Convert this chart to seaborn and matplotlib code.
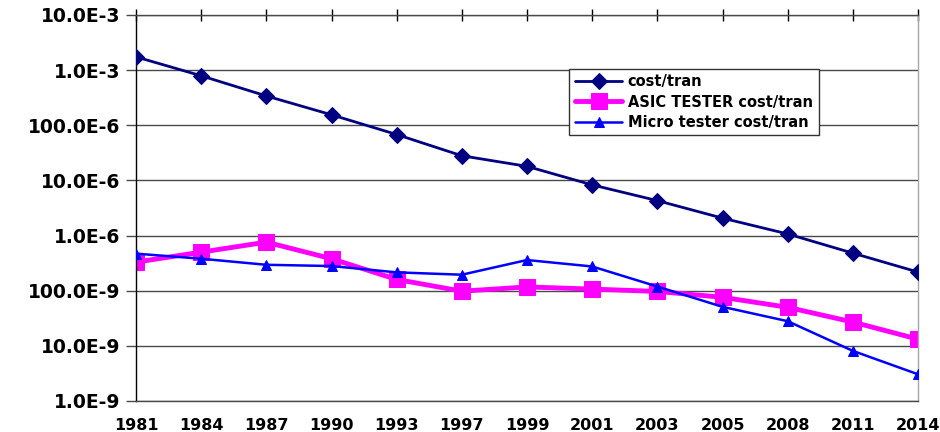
import numpy as np
import pandas as pd
import seaborn as sns
import matplotlib.pyplot as plt
from matplotlib.ticker import FixedLocator, NullLocator

# --- Data ---
years = ["1981", "1984", "1987", "1990", "1993", "1997", "1999",
         "2001", "2003", "2005", "2008", "2011", "2014"]
cost_tran = [1.74e-3, 7.9e-4, 3.4e-4, 1.55e-4, 6.8e-5, 2.8e-5, 1.8e-5,
             8.3e-6, 4.3e-6, 2.07e-6, 1.07e-6, 4.8e-7, 2.18e-7]
asic_tester = [3.3e-7, 5.0e-7, 7.6e-7, 3.8e-7, 1.6e-7, 9.8e-8, 1.17e-7,
               1.07e-7, 9.7e-8, 7.6e-8, 5.0e-8, 2.7e-8, 1.32e-8]
micro_tester = [4.7e-7, 3.8e-7, 2.95e-7, 2.8e-7, 2.15e-7, 1.95e-7, 3.6e-7,
                2.75e-7, 1.19e-7, 5.1e-8, 2.8e-8, 8.1e-9, 3.05e-9]
y_ticks = [1e-9, 1e-8, 1e-7, 1e-6, 1e-5, 1e-4, 1e-3, 1e-2]
y_labels = ["1.0E-9", "10.0E-9", "100.0E-9", "1.0E-6",
            "10.0E-6", "100.0E-6", "1.0E-3", "10.0E-3"]

df = pd.DataFrame({
    "pos": np.arange(len(years)),
    "cost/tran": cost_tran,
    "ASIC TESTER cost/tran": asic_tester,
    "Micro tester cost/tran": micro_tester,
})

sns.set_style("white")
plt.rcParams["font.family"] = ["DejaVu Sans"]
plt.rcParams["font.weight"] = "bold"
plt.rcParams["text.color"] = "black"
plt.rcParams["xtick.labelcolor"] = "black"
plt.rcParams["ytick.labelcolor"] = "black"

fig = plt.figure(figsize=(9.4, 4.32), dpi=100)
ax = fig.add_axes([0.1447, 0.0718, 0.8319, 0.8935])

# --- Series ---
sns.lineplot(data=df, x="pos", y="cost/tran", ax=ax, color="#000080",
             marker="D", markersize=8, markeredgecolor="#000080",
             linewidth=2, label="cost/tran", zorder=3)
sns.lineplot(data=df, x="pos", y="ASIC TESTER cost/tran", ax=ax,
             color="#FF00FF", marker="s", markersize=11,
             markeredgecolor="#FF00FF", linewidth=3.5,
             label="ASIC TESTER cost/tran", zorder=2)
sns.lineplot(data=df, x="pos", y="Micro tester cost/tran", ax=ax,
             color="#0000FF", marker="^", markersize=7.5,
             markeredgecolor="#0000FF", linewidth=1.8,
             label="Micro tester cost/tran", zorder=4)

# --- Axes ---
ax.set_yscale("log")
ax.set_ylim(1e-9, 1e-2)
ax.set_xlim(0, len(years) - 1)
ax.yaxis.set_major_locator(FixedLocator(y_ticks))
ax.yaxis.set_minor_locator(NullLocator())
ax.set_yticklabels(y_labels, fontsize=13.5, fontweight="bold")
ax.set_xticks(df["pos"])
ax.set_xticklabels(years, fontsize=11.5, fontweight="bold")
ax.set_xlabel("")
ax.set_ylabel("")

ax.grid(axis="y", color="#4a4a4a", linewidth=1)
ax.set_axisbelow(True)
ax.tick_params(axis="x", bottom=False, top=True, direction="inout",
               length=8, width=1, color="black",
               labelbottom=True, labeltop=False, pad=8)
ax.tick_params(axis="y", left=True, direction="out", length=7,
               width=1, color="#4a4a4a", pad=4)

ax.spines["left"].set_color("black")
ax.spines["top"].set_color("#4a4a4a")
ax.spines["bottom"].set_color("#4a4a4a")
ax.spines["right"].set_color("#a6a6a6")
for s in ax.spines.values():
    s.set_linewidth(1)

# --- Legend ---
leg = ax.legend(loc="upper left", bbox_to_anchor=(0.545, 0.88),
                frameon=True, fancybox=False, framealpha=1,
                edgecolor="#333333", borderpad=0.4,
                labelspacing=0.35, handlelength=3.2, handletextpad=0.4,
                prop={"weight": "bold", "size": 10.5})
leg.get_frame().set_linewidth(1)
for t in leg.get_texts():
    t.set_color("black")

fig.savefig("out.png", dpi=100)
